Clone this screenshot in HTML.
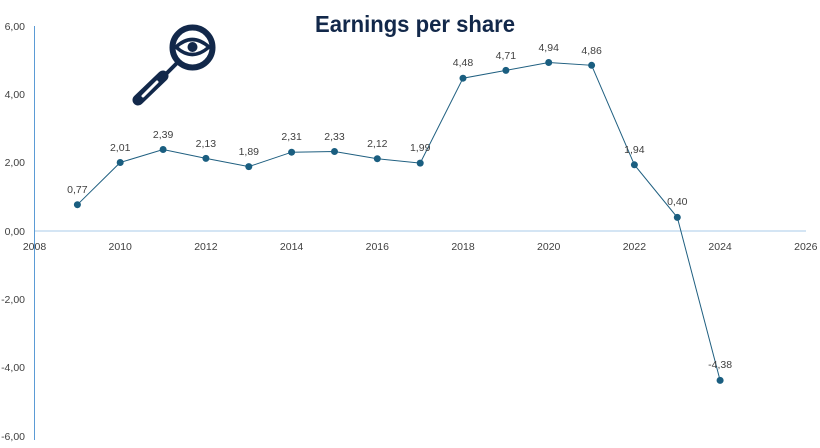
<!DOCTYPE html>
<html><head><style>
body{margin:0;background:#fff;width:820px;height:448px;overflow:hidden}
svg{display:block;font-family:"Liberation Sans",sans-serif}
</style></head><body>
<svg width="820" height="448" viewBox="0 0 820 448">
<text x="415" y="32" text-anchor="middle" font-size="23" font-weight="bold" fill="#12284a" textLength="200" lengthAdjust="spacingAndGlyphs">Earnings per share</text>
<!-- icon -->
<g fill="none" stroke="#12284a" stroke-linecap="round">
<circle cx="192.5" cy="47.5" r="20" stroke-width="6"/>
<line x1="177" y1="63" x2="167" y2="73" stroke-width="4"/>
<line x1="163" y1="76" x2="138" y2="100" stroke-width="11"/>
<path d="M176 47 Q192 32 209 47 Q192 62 176 47Z" stroke-width="3.5"/>
</g>
<line x1="143" y1="96" x2="157" y2="82" stroke="#fff" stroke-width="3" stroke-linecap="round"/>
<circle cx="192.5" cy="47" r="5" fill="#12284a"/>
<!-- axes -->
<line x1="34.5" y1="231" x2="806" y2="231" stroke="#a9cbe8" stroke-width="1"/>
<line x1="34.5" y1="26" x2="34.5" y2="440" stroke="#5b9bd5" stroke-width="1"/>
<g font-size="10.5" fill="#404040" text-anchor="end">
<text x="25" y="30">6,00</text><text x="25" y="98">4,00</text><text x="25" y="166">2,00</text><text x="25" y="235">0,00</text>
<text x="25" y="303">-2,00</text><text x="25" y="371">-4,00</text><text x="25" y="440">-6,00</text>
</g>
<g font-size="10.5" fill="#404040" text-anchor="middle">
<text x="34.5" y="250">2008</text><text x="120.2" y="250">2010</text><text x="205.9" y="250">2012</text><text x="291.6" y="250">2014</text><text x="377.3" y="250">2016</text><text x="463" y="250">2018</text><text x="548.7" y="250">2020</text><text x="634.4" y="250">2022</text><text x="720.1" y="250">2024</text><text x="805.8" y="250">2026</text>
</g>
<polyline fill="none" stroke="#1f5f80" stroke-width="1" points="77.4,204.7 120.2,162.5 163.1,149.5 205.9,158.4 248.8,166.6 291.6,152.2 334.5,151.5 377.3,158.7 420.2,163.1 463,78.2 505.9,70.4 548.7,62.5 591.6,65.3 634.4,164.8 677.3,217.4 720.1,380.4"/>
<g fill="#1a5e80">
<circle cx="77.4" cy="204.7" r="3.5"/><circle cx="120.2" cy="162.5" r="3.5"/><circle cx="163.1" cy="149.5" r="3.5"/><circle cx="205.9" cy="158.4" r="3.5"/><circle cx="248.8" cy="166.6" r="3.5"/><circle cx="291.6" cy="152.2" r="3.5"/><circle cx="334.5" cy="151.5" r="3.5"/><circle cx="377.3" cy="158.7" r="3.5"/><circle cx="420.2" cy="163.1" r="3.5"/><circle cx="463" cy="78.2" r="3.5"/><circle cx="505.9" cy="70.4" r="3.5"/><circle cx="548.7" cy="62.5" r="3.5"/><circle cx="591.6" cy="65.3" r="3.5"/><circle cx="634.4" cy="164.8" r="3.5"/><circle cx="677.3" cy="217.4" r="3.5"/><circle cx="720.1" cy="380.4" r="3.5"/>
</g>
<g font-size="10.5" fill="#404040" text-anchor="middle">
<text x="77.4" y="193">0,77</text><text x="120.2" y="151">2,01</text><text x="163.1" y="138">2,39</text><text x="205.9" y="147">2,13</text><text x="248.8" y="155">1,89</text><text x="291.6" y="140">2,31</text><text x="334.5" y="140">2,33</text><text x="377.3" y="147">2,12</text><text x="420.2" y="151">1,99</text><text x="463" y="66">4,48</text><text x="505.9" y="59">4,71</text><text x="548.7" y="51">4,94</text><text x="591.6" y="54">4,86</text><text x="634.4" y="153">1,94</text><text x="677.3" y="205">0,40</text><text x="720.1" y="368">-4,38</text>
</g>
</svg>
</body></html>
